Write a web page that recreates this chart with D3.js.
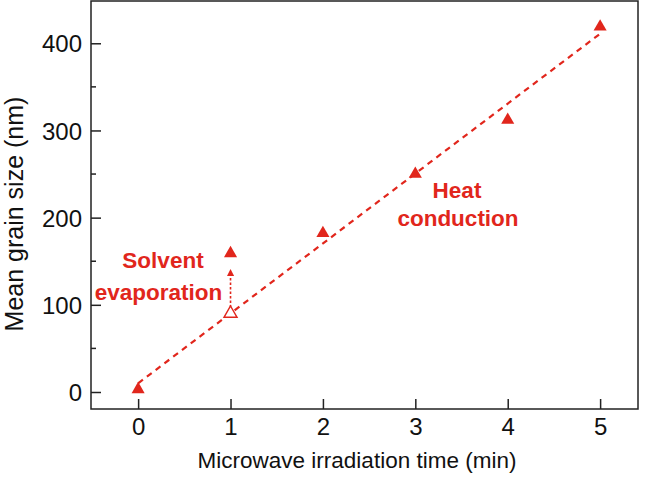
<!DOCTYPE html>
<html><head><meta charset="utf-8">
<script src="https://cdn.jsdelivr.net/npm/d3@7"></script>
<style>body{margin:0;background:#fff}svg{display:block}</style>
</head><body>
<script>
const times = [0, 1, 2, 3, 4, 5];
const grainSize = [3, 159, 182, 250, 312, 419];
const openTime = [1];
const openSize = [90];
const fitX = [0, 5];
const fitY = [10, 411];
const xTicks = [0, 1, 2, 3, 4, 5];
const yTicks = [0, 100, 200, 300, 400];
const yMinor = [50, 150, 250, 350];

const W = 646, H = 477;
const m = {l: 91, r: 8, t: 1, b: 68};
const red = "#e1261c";
const svg = d3.select("body").append("svg").attr("width", W).attr("height", H);
const x = d3.scaleLinear().domain([-0.51, 5.41]).range([m.l, W - m.r]);
const y = d3.scaleLinear().domain([-19.5, 448.5]).range([H - m.b, m.t]);
const font = "Liberation Sans, Arial, sans-serif";

// frame
svg.append("rect").attr("x", m.l).attr("y", m.t).attr("width", W - m.r - m.l).attr("height", H - m.b - m.t)
  .attr("fill", "none").attr("stroke", "#222").attr("stroke-width", 1.5);

const gx = svg.append("g").attr("transform", `translate(0,${H - m.b})`)
  .call(d3.axisBottom(x).tickValues(xTicks).tickFormat(d3.format("d")).tickSizeInner(-10).tickSizeOuter(0).tickPadding(9));
gx.select(".domain").remove();
gx.selectAll("line").attr("stroke", "#222").attr("stroke-width", 1.5);
gx.selectAll("text").attr("font-family", font).attr("font-size", 24).attr("fill", "#111").attr("dy", "0.72em");

const gy = svg.append("g").attr("transform", `translate(${m.l},0)`)
  .call(d3.axisLeft(y).tickValues(yTicks).tickFormat(d3.format("d")).tickSizeInner(-10).tickSizeOuter(0).tickPadding(9));
gy.select(".domain").remove();
gy.selectAll("line").attr("stroke", "#222").attr("stroke-width", 1.5);
gy.selectAll("text").attr("font-family", font).attr("font-size", 24).attr("fill", "#111").attr("dy", "0.36em");

svg.append("g").selectAll("line").data(yMinor).join("line")
  .attr("x1", m.l).attr("x2", m.l + 5).attr("y1", d => y(d)).attr("y2", d => y(d))
  .attr("stroke", "#222").attr("stroke-width", 1.5);

// fit line
svg.append("line").attr("x1", x(fitX[0])).attr("y1", y(fitY[0])).attr("x2", x(fitX[1])).attr("y2", y(fitY[1]))
  .attr("stroke", red).attr("stroke-width", 2.2).attr("stroke-dasharray", "6,5");

// arrow
svg.append("defs").append("marker").attr("id", "ah").attr("viewBox", "0 0 10 10").attr("refX", 1).attr("refY", 5)
  .attr("markerWidth", 8).attr("markerHeight", 7).attr("markerUnits", "userSpaceOnUse").attr("orient", "auto")
  .append("path").attr("d", "M0,0 L10,5 L0,10 Z").attr("fill", red);
svg.append("line").attr("x1", x(1)).attr("y1", y(97)).attr("x2", x(1)).attr("y2", y(134))
  .attr("stroke", red).attr("stroke-width", 1.6).attr("stroke-dasharray", "2.5,2").attr("marker-end", "url(#ah)");

const tri = d3.symbol().type(d3.symbolTriangle).size(74);
svg.append("g").selectAll("path").data(times).join("path")
  .attr("transform", (d, i) => `translate(${x(d)},${y(grainSize[i])})`)
  .attr("d", tri).attr("fill", red);
svg.append("g").selectAll("path").data(openTime).join("path")
  .attr("transform", (d, i) => `translate(${x(d)},${y(openSize[i])})`)
  .attr("d", tri).attr("fill", "#fff").attr("stroke", red).attr("stroke-width", 1.4);

// annotations
const ann = svg.append("g").attr("font-family", font).attr("font-weight", "bold").attr("font-size", 22.5).attr("fill", red).attr("text-anchor", "middle");
ann.append("text").attr("x", 163).attr("y", 268).text("Solvent");
ann.append("text").attr("x", 158.5).attr("y", 300).text("evaporation");
ann.append("text").attr("x", 457).attr("y", 198).text("Heat");
ann.append("text").attr("x", 458).attr("y", 226).text("conduction");

// axis titles
svg.append("text").attr("x", 357).attr("y", 468).attr("text-anchor", "middle")
  .attr("font-family", font).attr("font-size", 22.5).attr("fill", "#111").text("Microwave irradiation time (min)");
svg.append("text").attr("transform", `translate(23,214) rotate(-90)`).attr("text-anchor", "middle")
  .attr("font-family", font).attr("font-size", 25).attr("fill", "#111").text("Mean grain size (nm)");
</script>
</body></html>
